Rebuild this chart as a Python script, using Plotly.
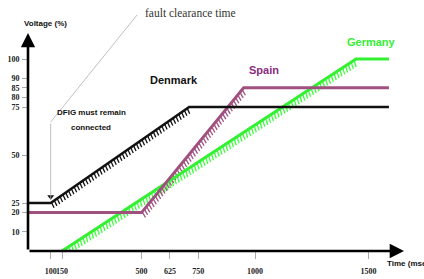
import numpy as np
import plotly.graph_objects as go

# ---- data ----
denmark_t = [0, 100, 710, 1590]
denmark_v = [25, 25, 75, 75]
spain_t = [0, 500, 950, 1590]
spain_v = [20, 20, 85, 85]
germany_t = [150, 1445, 1590]
germany_v = [0, 100, 100]
fault_clear_ms = 100

x_ticks = [100, 150, 500, 625, 750, 1000, 1500]
y_ticks = [10, 20, 25, 50, 75, 80, 85, 90, 100]

# ---- layout geometry ----
W, H = 424, 279
ML, MR, MT, MB = 28, 6, 2, 28
PW, PH = W - ML - MR, H - MT - MB
SX = 0.227   # px per ms
SY = 1.92    # px per %
XMAX = PW / SX
YMAX = PH / SY
X_ARROW = (404 - ML) / SX
Y_ARROW = (H - MB - 33) / SY

C_DK = "#111111"
C_ES = "#a0507f"
C_DE = "#33f033"
C_ES_TXT = "#8a2a80"


def hatch(ts, vs, angle_deg, length_px, spacing_px):
    xs, ys = [], []
    a = np.radians(angle_deg)
    for i in range(len(ts) - 1):
        if vs[i] == vs[i + 1]:
            continue
        X0, Y0 = ts[i] * SX, vs[i] * SY
        X1, Y1 = ts[i + 1] * SX, vs[i + 1] * SY
        L = np.hypot(X1 - X0, Y1 - Y0)
        n = int(L / spacing_px)
        for k in range(n):
            f = (k + 0.3) / n
            px = X0 + f * (X1 - X0)
            py = Y0 + f * (Y1 - Y0)
            ex = px + length_px * np.cos(a)
            ey = py - length_px * np.sin(a)
            xs += [px / SX, ex / SX, None]
            ys += [py / SY, ey / SY, None]
    return xs, ys


fig = go.Figure()

for t, v, c, ang, ln in [
    (germany_t, germany_v, "#3cff3c", 72, 7),
    (spain_t, spain_v, C_ES, 60, 6.5),
    (denmark_t, denmark_v, C_DK, 65, 6),
]:
    hx, hy = hatch(t, v, ang, ln, 3.4)
    fig.add_trace(go.Scatter(x=hx, y=hy, mode="lines",
                             line=dict(color=c, width=1.3),
                             hoverinfo="skip", showlegend=False))

fig.add_trace(go.Scatter(x=germany_t, y=germany_v, mode="lines",
                         line=dict(color=C_DE, width=3), showlegend=False))
fig.add_trace(go.Scatter(x=spain_t, y=spain_v, mode="lines",
                         line=dict(color=C_ES, width=3), showlegend=False))
fig.add_trace(go.Scatter(x=denmark_t, y=denmark_v, mode="lines",
                         line=dict(color=C_DK, width=2.6), showlegend=False))

# leader line for the fault clearance time
lead_y = (H - MB - 122) / SY
dk_at_fault = np.interp(fault_clear_ms, denmark_t, denmark_v)
fig.add_shape(type="line", x0=fault_clear_ms, y0=lead_y,
              x1=(137 - ML) / SX, y1=(H - MB - 15) / SY,
              line=dict(color="#b0b0b0", width=0.8))
fig.add_annotation(x=fault_clear_ms, y=dk_at_fault + 1.5,
                   ax=fault_clear_ms, ay=lead_y, axref="x", ayref="y",
                   text="", showarrow=True, arrowhead=0, arrowwidth=0.8,
                   arrowcolor="#b0b0b0", standoff=0)
fig.add_trace(go.Scatter(x=[fault_clear_ms], y=[dk_at_fault + 3.2], mode="markers",
                         marker=dict(symbol="triangle-down", size=6, color="#111"),
                         hoverinfo="skip", showlegend=False))

# axes arrows
fig.add_annotation(x=0, y=Y_ARROW, ax=0, ay=0, axref="x", ayref="y",
                   text="", showarrow=True, arrowhead=2, arrowsize=1.1,
                   arrowwidth=2.6, arrowcolor="#000", standoff=0)
fig.add_annotation(x=X_ARROW, y=0, ax=0, ay=0, axref="x", ayref="y",
                   text="", showarrow=True, arrowhead=2, arrowsize=1.1,
                   arrowwidth=2.6, arrowcolor="#000", standoff=0)

SANS = "Liberation Sans, Arial, sans-serif"


def px2x(p):
    return (p - ML) / SX


def px2y(p):
    return (H - MB - p) / SY


labels = [
    ("Denmark", 174, 80, C_DK, 11, SANS, "bold"),
    ("Spain", 264, 70, C_ES_TXT, 11, SANS, "bold"),
    ("Germany", 371, 42, C_DE, 11, SANS, "bold"),
    ("DFIG must remain", 91, 112, C_DK, 8, SANS, "bold"),
    ("connected", 91, 127, C_DK, 8, SANS, "bold"),
    ("Voltage (%)", 45, 23, C_DK, 8, SANS, "bold"),
    ("fault clearance time", 190, 13, "#333", 11.5, "Liberation Serif, Times New Roman, serif", "normal"),
]
for txt, px, py, col, size, fam, wt in labels:
    fig.add_annotation(x=px2x(px), y=px2y(py), text=txt, showarrow=False,
                       xanchor="center", yanchor="middle",
                       font=dict(color=col, size=size, family=fam, weight=wt))

fig.add_annotation(x=(385 - ML) / PW, y=(H - MB - 263) / PH, xref="paper", yref="paper",
                   text="Time (msec)", showarrow=False,
                   xanchor="left", yanchor="middle",
                   font=dict(color=C_DK, size=8, family=SANS, weight="bold"))

tickfont = dict(family="Liberation Serif, Times New Roman, serif", size=8,
                color="#222", weight="bold")
fig.update_xaxes(range=[0, XMAX], tickvals=x_ticks, ticktext=[str(v) for v in x_ticks],
                 ticks="outside", ticklen=7, tickcolor="#aaa", tickwidth=0.8,
                 tickangle=0, showline=False, showgrid=False, zeroline=False,
                 tickfont=tickfont, ticklabelstandoff=5, fixedrange=True)
fig.update_yaxes(range=[0, YMAX], tickvals=y_ticks, ticktext=[str(v) for v in y_ticks],
                 ticks="outside", ticklen=5, tickcolor="#aaa", tickwidth=0.8,
                 showline=False, showgrid=False, zeroline=False,
                 tickfont=tickfont, ticklabelstandoff=1, fixedrange=True)

fig.update_layout(width=W, height=H, margin=dict(l=ML, r=MR, t=MT, b=MB),
                  paper_bgcolor="white", plot_bgcolor="white", showlegend=False)

fig.write_html("out.html", config={"displayModeBar": False},
               post_script="document.body.style.margin='0';document.body.style.overflow='hidden';")
